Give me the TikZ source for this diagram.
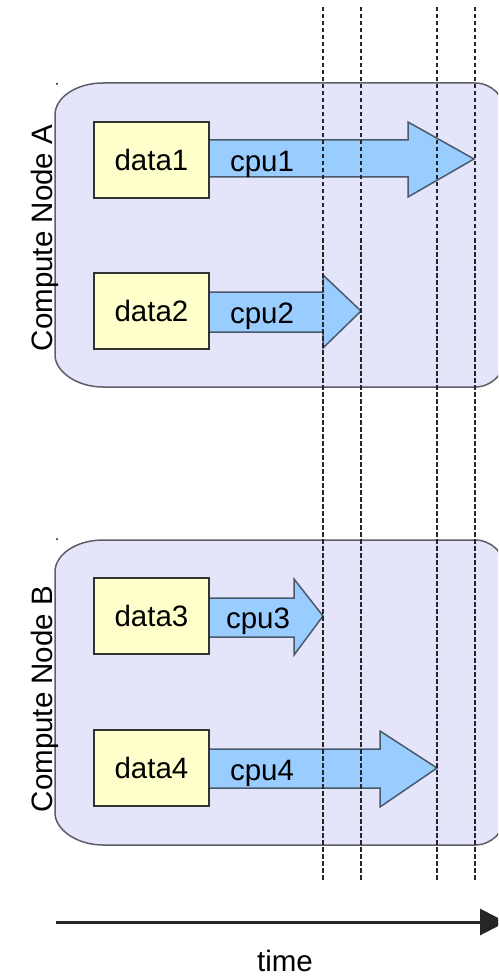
\documentclass[tikz,border=0pt]{standalone}
\usepackage{fontspec}
\setmainfont{Liberation Sans}
\usetikzlibrary{arrows.meta}

\definecolor{nodefill}{HTML}{E4E4FB}
\definecolor{nodeline}{HTML}{5E5E66}
\definecolor{datafill}{HTML}{FFFFCC}
\definecolor{cpufill}{HTML}{99CCFF}
\definecolor{cpuline}{HTML}{4A5A6A}

\tikzset{
  computebox/.style={fill=nodefill, draw=nodeline, line width=1.5pt},
  databox/.style={draw=black!80, line width=2pt, fill=datafill,
    minimum width=115pt, minimum height=76pt, inner sep=0pt,
    font=\fontsize{29.5}{34}\selectfont},
  cpuarrow/.style={fill=cpufill, draw=cpuline, line width=1.5pt, line join=miter},
  cpulabel/.style={font=\fontsize{29.5}{34}\selectfont, inner sep=0pt, anchor=base},
  sidelabel/.style={rotate=90, font=\fontsize{29.5}{34}\selectfont, inner sep=0pt, anchor=base},
  timeline/.style={dash pattern=on 4.5pt off 2.5pt, line width=2pt, black!85},
}

\begin{document}
\begin{tikzpicture}[x=1pt, y=-1pt]
  \useasboundingbox (0,0) rectangle (498,976);
  \clip (0,0) rectangle (498,976);
  \fill[white] (0,0) rectangle (498,976);

  % compute node frames (right side runs past the edge)
  \draw[computebox] (103,83) -- (475,83)
    .. controls (491.6,83) and (505,96.4) .. (505,113) -- (505,357)
    .. controls (505,373.6) and (491.6,387) .. (475,387) -- (103,387)
    .. controls (76.5,387) and (55,371.3) .. (55,355) -- (55,115)
    .. controls (55,97.3) and (76.5,83) .. (103,83) -- cycle;
  \draw[computebox] (103,540) -- (475,540)
    .. controls (491.6,540) and (505,553.4) .. (505,570) -- (505,815)
    .. controls (505,831.6) and (491.6,845) .. (475,845) -- (103,845)
    .. controls (76.5,845) and (55,829.3) .. (55,813) -- (55,572)
    .. controls (55,554.3) and (76.5,540) .. (103,540) -- cycle;

  \fill[black] (57,84) circle (1pt);
  \fill[black] (57,539) circle (1pt);

  % cpu work arrows
  \draw[cpuarrow] (205,140) -- (408,140) -- (408,122) -- (474,159)
    -- (408,197) -- (408,177) -- (205,177);
  \draw[cpuarrow] (205,292) -- (323,292) -- (323,275) -- (361,311)
    -- (323,348) -- (323,332) -- (205,332);
  \draw[cpuarrow] (205,598) -- (294,598) -- (294,579) -- (323,616)
    -- (294,655) -- (294,637) -- (205,637);
  \draw[cpuarrow] (205,749) -- (380,749) -- (380,731) -- (437,768)
    -- (380,807) -- (380,788) -- (205,788);

  % data blocks
  \node[databox] (data1) at (151.5,160) {data1};
  \node[databox] (data2) at (151.5,311) {data2};
  \node[databox] (data3) at (151.5,616) {data3};
  \node[databox] (data4) at (151.5,768) {data4};

  \node[cpulabel] (cpu1) at (262,172) {cpu1};
  \node[cpulabel] (cpu2) at (262,323) {cpu2};
  \node[cpulabel] (cpu3) at (258,628) {cpu3};
  \node[cpulabel] (cpu4) at (262,780) {cpu4};

  % node labels
  \node[sidelabel] (nodeA) at (52,238) {Compute Node A};
  \node[sidelabel] (nodeB) at (52,699) {Compute Node B};

  % completion markers
  \foreach \x/\n in {323/t1, 361/t2, 437/t3, 475/t4} {
    \coordinate (\n top) at (\x,7);
    \coordinate (\n bot) at (\x,880);
    \draw[timeline] (\n top) -- (\n bot);
  }

  % time axis
  \coordinate (axisstart) at (56,922);
  \coordinate (axisend) at (506,922);
  \draw[line width=3pt, black!85, -{Triangle[length=26pt,width=26pt]}] (axisstart) -- (axisend);
  \node[cpulabel] (time) at (285,971) {time};
\end{tikzpicture}
\end{document}
